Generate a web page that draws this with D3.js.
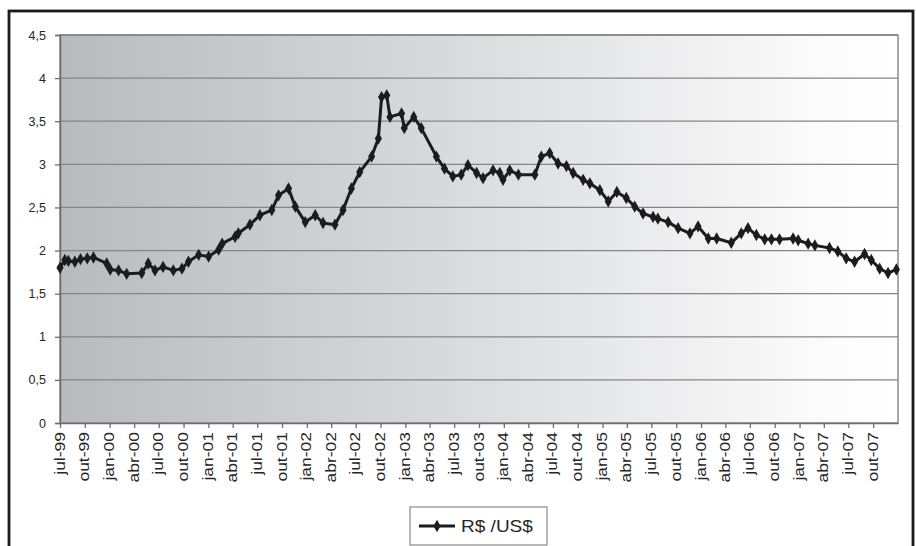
<!DOCTYPE html>
<html>
<head>
<meta charset="utf-8">
<script src="https://cdn.jsdelivr.net/npm/d3@7/dist/d3.min.js"></script>
<style>
  html, body { margin: 0; padding: 0; background: #fff; }
  svg { display: block; font-family: "Liberation Sans", Arial, sans-serif; }
</style>
</head>
<body>
<svg id="chart" width="916" height="546"></svg>
<script>
// Taxa de câmbio R$ / US$, jul-1999 a dez-2007
const dates = [
  "1999-07-01","1999-07-19","1999-08-01","1999-08-25","1999-09-15","1999-10-10","1999-11-02",
  "1999-12-21","2000-01-03","2000-02-03","2000-03-04","2000-04-29","2000-05-23","2000-06-17",
  "2000-07-17","2000-08-24","2000-09-25","2000-10-19","2000-11-26","2001-01-02","2001-02-08",
  "2001-02-21","2001-04-10","2001-04-22","2001-06-04","2001-07-11","2001-08-24","2001-09-18",
  "2001-10-25","2001-11-19","2001-12-26","2002-02-01","2002-03-02","2002-04-15","2002-05-15",
  "2002-06-15","2002-07-16","2002-08-29","2002-09-23","2002-10-05","2002-10-24","2002-11-05",
  "2002-12-18","2002-12-28","2003-02-01","2003-03-01","2003-04-26","2003-05-26","2003-06-26",
  "2003-07-27","2003-08-21","2003-09-22","2003-10-16","2003-11-22","2003-12-17","2003-12-29",
  "2004-01-23","2004-02-24","2004-04-25","2004-05-19","2004-06-19","2004-07-20","2004-08-20",
  "2004-09-14","2004-10-21","2004-11-15","2004-12-22","2005-01-22","2005-02-23","2005-03-30",
  "2005-04-30","2005-05-31","2005-07-07","2005-07-25","2005-09-01","2005-10-08","2005-11-21",
  "2005-12-21","2006-01-28","2006-02-28","2006-04-23","2006-05-30","2006-06-24","2006-07-25",
  "2006-08-25","2006-09-19","2006-10-19","2006-12-08","2006-12-27","2007-02-02","2007-02-27",
  "2007-04-22","2007-05-23","2007-06-23","2007-07-24","2007-08-30","2007-09-24","2007-10-25",
  "2007-11-25","2007-12-26"
];
const rates = [
  1.80,1.89,1.88,1.87,1.90,1.91,1.92,
  1.85,1.78,1.77,1.73,1.74,1.85,1.77,
  1.81,1.77,1.79,1.87,1.95,1.93,2.01,
  2.08,2.16,2.20,2.30,2.41,2.47,2.64,
  2.72,2.51,2.33,2.41,2.32,2.30,2.47,
  2.72,2.91,3.09,3.30,3.78,3.80,3.55,
  3.59,3.42,3.55,3.42,3.09,2.95,2.86,
  2.88,2.99,2.90,2.84,2.93,2.90,2.82,
  2.93,2.88,2.88,3.09,3.13,3.01,2.98,
  2.90,2.82,2.78,2.70,2.57,2.68,2.61,
  2.51,2.43,2.39,2.37,2.33,2.26,2.20,
  2.28,2.14,2.14,2.09,2.20,2.26,2.18,
  2.13,2.13,2.13,2.14,2.12,2.08,2.06,
  2.03,1.99,1.91,1.87,1.96,1.89,1.79,
  1.74,1.78
];
const xTickLabels = [
  "jul-99","out-99","jan-00","abr-00","jul-00","out-00","jan-01","abr-01","jul-01","out-01",
  "jan-02","abr-02","jul-02","out-02","jan-03","abr-03","jul-03","out-03","jan-04","abr-04",
  "jul-04","out-04","jan-05","abr-05","jul-05","out-05","jan-06","abr-06","jul-06","out-06",
  "jan-07","abr-07","jul-07","out-07"
];
const yTicks = [0, 0.5, 1, 1.5, 2, 2.5, 3, 3.5, 4, 4.5];
const seriesName = "R$ /US$";

const parse = d3.utcParse("%Y-%m-%d");
const data = dates.map((d, i) => ({ date: parse(d), value: rates[i] }));
const start = parse("1999-07-01");
const end = parse("2008-01-01");
const tickDates = xTickLabels.map((_, i) => d3.utcMonth.offset(start, 3 * i));

const W = 916, H = 546;
const margin = { top: 35, right: 18, bottom: 123, left: 60 };
const svg = d3.select("#chart");

const x = d3.scaleUtc().domain([start, end]).range([margin.left, W - margin.right]);
const y = d3.scaleLinear().domain([0, 4.5]).range([H - margin.bottom, margin.top]);

const ptBR = d3.formatLocale({ decimal: ",", thousands: ".", grouping: [3], currency: ["R$", ""] });
const fmt = ptBR.format("~g");

// Outer frame
svg.append("rect")
  .attr("x", 9).attr("y", 11).attr("width", 904).attr("height", 560)
  .attr("fill", "#fff").attr("stroke", "#1b1b1b").attr("stroke-width", 2.8);

// Plot area with horizontal grey-to-white gradient
const defs = svg.append("defs");
const grad = defs.append("linearGradient").attr("id", "bg")
  .attr("x1", "0%").attr("x2", "100%").attr("y1", "0%").attr("y2", "0%");
grad.append("stop").attr("offset", "0%").attr("stop-color", "#b8babe");
grad.append("stop").attr("offset", "45%").attr("stop-color", "#d8d9dc");
grad.append("stop").attr("offset", "92%").attr("stop-color", "#fcfcfc");
grad.append("stop").attr("offset", "100%").attr("stop-color", "#ffffff");

svg.append("rect")
  .attr("x", x.range()[0]).attr("y", y(4.5))
  .attr("width", x.range()[1] - x.range()[0]).attr("height", y(0) - y(4.5))
  .attr("fill", "url(#bg)").attr("stroke", "#8c8c8c").attr("stroke-width", 1.5);

// Gridlines
svg.append("g").selectAll("line").data(yTicks.filter(v => v > 0)).join("line")
  .attr("x1", x.range()[0]).attr("x2", x.range()[1])
  .attr("y1", d => y(d)).attr("y2", d => y(d))
  .attr("stroke", "#858585").attr("stroke-width", 1.3);

// Y axis
const yAxis = svg.append("g")
  .attr("transform", `translate(${x.range()[0]},0)`)
  .call(d3.axisLeft(y).tickValues(yTicks).tickFormat(fmt).tickSize(5).tickPadding(9));
yAxis.select(".domain").attr("stroke", "#6e6e6e").attr("stroke-width", 1.5);
yAxis.selectAll(".tick line").attr("stroke", "#6e6e6e").attr("stroke-width", 1.3);
yAxis.selectAll("text").attr("font-size", 12.5).attr("fill", "#262626")
  .attr("font-family", "'Liberation Sans', Arial, sans-serif");

// X axis
const xAxis = svg.append("g")
  .attr("transform", `translate(0,${y(0)})`)
  .call(d3.axisBottom(x).tickValues(tickDates)
    .tickFormat((d, i) => xTickLabels[i]).tickSize(5).tickSizeOuter(0));
xAxis.select(".domain").attr("stroke", "#6e6e6e").attr("stroke-width", 1.5);
xAxis.selectAll(".tick line").attr("stroke", "#6e6e6e").attr("stroke-width", 1.3);
xAxis.selectAll("text")
  .attr("font-size", 14).attr("fill", "#262626")
  .attr("font-family", "'Liberation Sans', Arial, sans-serif")
  .attr("text-anchor", "end")
  .attr("x", 0).attr("y", 0).attr("dy", "0.36em")
  .attr("transform", "translate(-1,9) rotate(-90) scale(1.25,1)");

// Series line and diamond markers
const line = d3.line().x(d => x(d.date)).y(d => y(d.value));
svg.append("path").datum(data)
  .attr("d", line).attr("fill", "none")
  .attr("stroke", "#1c1c1c").attr("stroke-width", 3).attr("stroke-linejoin", "round");

const diamond = d3.symbol().type(d3.symbolDiamond).size(44);
svg.append("g").selectAll("path").data(data).join("path")
  .attr("transform", d => `translate(${x(d.date)},${y(d.value)})`)
  .attr("d", diamond).attr("fill", "#1c1c1c");

// Legend
const lg = svg.append("g").attr("transform", "translate(410,507)");
lg.append("rect").attr("width", 137).attr("height", 38)
  .attr("fill", "#fff").attr("stroke", "#8a8a8a").attr("stroke-width", 1.2);
lg.append("line").attr("x1", 9).attr("x2", 45).attr("y1", 19).attr("y2", 19)
  .attr("stroke", "#1c1c1c").attr("stroke-width", 3);
lg.append("path").attr("transform", "translate(27,19)").attr("d", diamond).attr("fill", "#1c1c1c");
lg.append("text").attr("x", 51).attr("y", 19).attr("dy", "0.36em")
  .attr("font-size", 17).attr("fill", "#262626")
  .attr("transform", "translate(51,0) scale(1.12,1) translate(-51,0)")
  .text(seriesName);
</script>
</body>
</html>
